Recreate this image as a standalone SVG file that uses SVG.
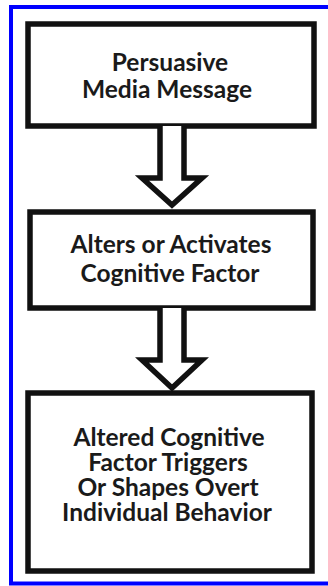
<svg xmlns="http://www.w3.org/2000/svg" width="328" height="586" viewBox="0 0 328 586">
<style>
.frame{fill:none;stroke:#0000ff;stroke-width:4}
.box{fill:#fff;stroke:#111;stroke-width:5.5}
.arrow{fill:#fff;stroke:#111;stroke-width:5.5;stroke-linejoin:miter}
.t{font-family:Lato,"Open Sans","Liberation Sans",sans-serif;font-weight:bold;font-size:24.5px;fill:#1a1a1a;text-anchor:middle}
</style>
<rect width="328" height="586" fill="#fff"/>
<rect class="frame" x="11" y="7" width="400" height="576.5"/>
<g id="n1">
<rect class="box" x="28" y="24" width="286" height="102"/>
<text class="t" x="170" y="71">Persuasive</text>
<text class="t" x="167" y="98">Media Message</text>
</g>
<g id="n2">
<rect class="box" x="30" y="212" width="283" height="96"/>
<text class="t" x="171" y="253">Alters or Activates</text>
<text class="t" x="170" y="282">Cognitive Factor</text>
</g>
<g id="n3">
<rect class="box" x="28" y="393" width="284" height="178"/>
<text class="t" x="169" y="446">Altered Cognitive</text>
<text class="t" x="168" y="471">Factor Triggers</text>
<text class="t" x="168" y="496">Or Shapes Overt</text>
<text class="t" x="167" y="521">Individual Behavior</text>
</g>
<g id="connectors">
<path class="arrow" d="M160,126 V178 H142 L172,205 L202,178 H184 V126"/>
<path class="arrow" d="M160,308 V360 H142 L172,388 L202,360 H184 V308"/>
</g>
</svg>
